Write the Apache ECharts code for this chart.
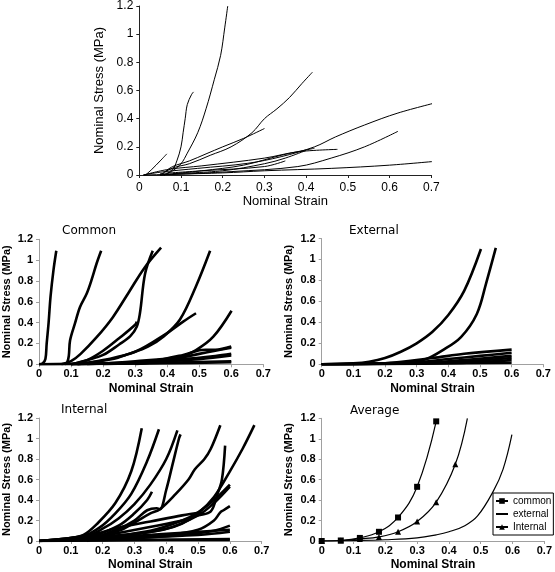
<!DOCTYPE html>
<html><head><meta charset="utf-8">
<script src="https://cdn.jsdelivr.net/npm/echarts@6/dist/echarts.min.js"></script>
<style>html,body{margin:0;padding:0;background:#fff}#c{width:555px;height:572px}</style>
</head><body><div id="c"></div>
<script>
// ---- data ----
const xTicks = [0, 0.1, 0.2, 0.3, 0.4, 0.5, 0.6, 0.7];
const yTicks = [0, 0.2, 0.4, 0.6, 0.8, 1, 1.2];
const panelTitles = ['Common', 'External', 'Internal', 'Average'];
const legendNames = ['common', 'external', 'Internal'];

const topCurves = [
  [[0.015,0],[0.03,0.04],[0.05,0.1],[0.066,0.15]],
  [[0.06,0],[0.08,0.04],[0.09,0.1],[0.1,0.2],[0.105,0.3],[0.11,0.4],[0.115,0.5],[0.125,0.57],[0.13,0.59]],
  [[0.06,0],[0.08,0.03],[0.1,0.08],[0.115,0.155],[0.14,0.3],[0.16,0.47],[0.18,0.68],[0.195,0.85],[0.205,1.05],[0.212,1.2]],
  [[0.05,0],[0.08,0.05],[0.12,0.08],[0.17,0.14],[0.22,0.2],[0.27,0.3],[0.3,0.4],[0.33,0.47],[0.36,0.55],[0.39,0.65],[0.415,0.73]],
  [[0.06,0.02],[0.08,0.06],[0.12,0.1],[0.16,0.15],[0.2,0.2],[0.25,0.26],[0.3,0.33]],
  [[0.01,0],[0.05,0.02],[0.14,0.047],[0.26,0.083],[0.34,0.13],[0.42,0.2],[0.47,0.27],[0.54,0.355],[0.62,0.44],[0.72,0.52]],
  [[0.05,0],[0.22,0.024],[0.38,0.06],[0.46,0.12],[0.54,0.2],[0.62,0.31]],
  [[0.01,0],[0.07,0.04],[0.15,0.065],[0.3,0.12],[0.38,0.165],[0.475,0.182]],
  [[0.01,0],[0.2,0.015],[0.3,0.03],[0.46,0.047],[0.6,0.07],[0.72,0.1]],
  [[0.05,0],[0.15,0.03],[0.25,0.07],[0.34,0.14],[0.42,0.19]],
  [[0.08,0.01],[0.2,0.03],[0.3,0.08],[0.35,0.12],[0.4,0.175]],
  [[0.05,0.01],[0.15,0.03],[0.3,0.06],[0.35,0.1]]
];

const commonCurves = [
  [[0,0],[0.012,0.01],[0.02,0.05],[0.024,0.2],[0.03,0.4],[0.036,0.65],[0.045,0.9],[0.054,1.09]],
  [[0.08,0],[0.088,0.02],[0.093,0.08],[0.097,0.23],[0.112,0.39],[0.128,0.55],[0.149,0.68],[0.164,0.81],[0.18,0.97],[0.194,1.09]],
  [[0.07,0],[0.1,0.03],[0.13,0.1],[0.18,0.26],[0.23,0.45],[0.28,0.69],[0.33,0.93],[0.381,1.12]],
  [[0.1,0],[0.15,0.04],[0.2,0.09],[0.25,0.19],[0.285,0.27],[0.305,0.36],[0.315,0.49],[0.331,0.87],[0.355,1.09]],
  [[0.1,0],[0.15,0.04],[0.2,0.13],[0.25,0.25],[0.3,0.38],[0.305,0.41]],
  [[0.12,0],[0.23,0.05],[0.28,0.1],[0.34,0.17],[0.39,0.27],[0.44,0.43],[0.49,0.75],[0.534,1.09]],
  [[0.12,0],[0.2,0.04],[0.3,0.12],[0.4,0.3],[0.45,0.41],[0.49,0.49]],
  [[0.15,0],[0.3,0.03],[0.44,0.073],[0.49,0.137],[0.544,0.265],[0.601,0.514]],
  [[0.2,0],[0.35,0.03],[0.45,0.09],[0.5,0.135],[0.52,0.14],[0.55,0.14],[0.6,0.17]],
  [[0.3,0],[0.4,0.04],[0.5,0.1],[0.55,0.13],[0.6,0.16]],
  [[0.1,0],[0.3,0.02],[0.45,0.05],[0.55,0.08],[0.6,0.1]],
  [[0.1,0],[0.3,0.015],[0.5,0.05],[0.6,0.085]],
  [[0,0],[0.3,0.01],[0.6,0.03]],
  [[0,0],[0.4,0.01],[0.6,0.02]]
];

const externalCurves = [
  [[0,0],[0.1,0.01],[0.15,0.025],[0.2,0.06],[0.25,0.12],[0.3,0.2],[0.35,0.31],[0.4,0.47],[0.45,0.7],[0.503,1.1]],
  [[0,0],[0.2,0.01],[0.28,0.02],[0.33,0.05],[0.38,0.13],[0.44,0.26],[0.49,0.48],[0.52,0.78],[0.55,1.11]],
  [[0,0],[0.2,0.01],[0.35,0.06],[0.45,0.1],[0.6,0.14]],
  [[0,0],[0.3,0.02],[0.4,0.05],[0.5,0.08],[0.6,0.11]],
  [[0,0],[0.3,0.01],[0.45,0.04],[0.6,0.08]],
  [[0,0],[0.4,0.02],[0.6,0.06]],
  [[0,0],[0.4,0.01],[0.6,0.04]],
  [[0,0],[0.6,0.015]]
];

const internalCurves = [
  [[0,0],[0.1,0.03],[0.14,0.06],[0.18,0.16],[0.24,0.37],[0.29,0.68],[0.323,1.1]],
  [[0,0],[0.14,0.05],[0.19,0.13],[0.24,0.27],[0.29,0.46],[0.34,0.78],[0.377,1.09]],
  [[0,0],[0.15,0.05],[0.2,0.12],[0.25,0.22],[0.3,0.36],[0.35,0.55],[0.4,0.8],[0.435,1.08]],
  [[0.15,0],[0.25,0.12],[0.3,0.2],[0.34,0.3],[0.37,0.32],[0.38,0.31],[0.4,0.5],[0.42,0.75],[0.44,1.0],[0.445,1.04]],
  [[0.15,0.02],[0.25,0.15],[0.3,0.27],[0.34,0.4],[0.355,0.48]],
  [[0.15,0.02],[0.25,0.1],[0.3,0.18],[0.35,0.27],[0.38,0.31],[0.43,0.46],[0.47,0.6],[0.49,0.7],[0.52,0.8],[0.54,0.9],[0.57,1.13]],
  [[0,0],[0.15,0.03],[0.3,0.07],[0.39,0.11],[0.45,0.17],[0.5,0.27],[0.55,0.43],[0.6,0.68],[0.64,0.9],[0.677,1.13]],
  [[0.2,0.05],[0.45,0.2],[0.5,0.25],[0.54,0.29],[0.56,0.45],[0.575,0.6],[0.585,0.93]],
  [[0.15,0.02],[0.35,0.1],[0.45,0.2],[0.5,0.28],[0.55,0.4],[0.6,0.55]],
  [[0.2,0.03],[0.4,0.12],[0.5,0.25],[0.55,0.37],[0.6,0.53]],
  [[0.15,0.04],[0.25,0.13],[0.35,0.19],[0.45,0.25],[0.51,0.28]],
  [[0.2,0.02],[0.4,0.06],[0.5,0.11],[0.55,0.2],[0.57,0.28],[0.58,0.3],[0.6,0.34]],
  [[0.2,0.01],[0.45,0.06],[0.55,0.1],[0.6,0.15]],
  [[0.1,0.01],[0.4,0.07],[0.6,0.11]],
  [[0.1,0.01],[0.5,0.06],[0.6,0.09]],
  [[0,0],[0.6,0.02]],
  [[0,0],[0.4,0.01],[0.6,0.01]]
];

const avgCommon = [[0,0],[0.06,0.005],[0.12,0.03],[0.18,0.09],[0.24,0.23],[0.30,0.53],[0.36,1.17]];
const avgExternal = [[0,0],[0.1,0.004],[0.2,0.012],[0.3,0.03],[0.36,0.06],[0.4,0.09],[0.45,0.15],[0.49,0.245],[0.54,0.49],[0.57,0.7],[0.598,1.04]];
const avgInternal = [[0,0],[0.06,0.005],[0.12,0.02],[0.18,0.04],[0.24,0.09],[0.30,0.19],[0.36,0.38],[0.42,0.75],[0.458,1.2]];
const avgInternalMarked = 8; // first 8 points carry a marker

// ---- layout ----
const FONT = '"Liberation Sans", Arial, sans-serif';
const grids = [
  {left:139.3, top:6, width:292, height:169},
  {left:39, top:239.3, width:224.3, height:125},
  {left:321.7, top:238.5, width:221.6, height:125.8},
  {left:37.7, top:418, width:224, height:125},
  {left:321.7, top:418.3, width:226.5, height:125.7}
];

function xAxis(i){
  const top = i===0;
  return {
    type:'value', gridIndex:i, min:xTicks[0], max:xTicks[xTicks.length-1], interval:0.1,
    name:'Nominal Strain', nameLocation:'middle', nameGap: top?19:18,
    nameTextStyle:{fontFamily:FONT, fontSize: top?13:12, fontWeight: top?'normal':'bold', color:'#000'},
    axisLine:{show:true, lineStyle:{color: top?'#222':'#a0a0a0', width:1}},
    axisTick:{show:true, length:3, lineStyle:{color: top?'#222':'#a0a0a0'}},
    splitLine:{show:false},
    axisLabel:{fontFamily:FONT, fontSize: top?12:11, fontWeight: top?'normal':'bold', color:'#000', margin: top?7:4}
  };
}
function yAxis(i){
  const top = i===0;
  return {
    type:'value', gridIndex:i, min:yTicks[0], max:yTicks[yTicks.length-1], interval:0.2,
    name:'Nominal Stress (MPa)', nameLocation:'middle', nameGap: top?30:27,
    nameTextStyle:{fontFamily:FONT, fontSize: top?13:11, fontWeight: top?'normal':'bold', color:'#000'},
    axisLine:{show:true, lineStyle:{color: top?'#222':'#a0a0a0', width:1}},
    axisTick:{show:true, length:3, lineStyle:{color: top?'#222':'#a0a0a0'}},
    splitLine:{show:false},
    axisLabel:{fontFamily:FONT, fontSize: top?12:11, fontWeight: top?'normal':'bold', color:'#000', margin:6}
  };
}

const series = [];
function addCurves(curves, gi, width, clip){
  curves.forEach(c => series.push({
    type:'line', xAxisIndex:gi, yAxisIndex:gi, data:c, showSymbol:false, symbol:'none',
    smooth:0.35, clip:clip, lineStyle:{color:'#000', width:width}, silent:true, animation:false
  }));
}
addCurves(topCurves, 0, 1, false);
addCurves(commonCurves, 1, 2.6, true);
addCurves(externalCurves, 2, 2.6, true);
addCurves(internalCurves, 3, 2.6, true);

series.push({
  name:legendNames[0], type:'line', xAxisIndex:4, yAxisIndex:4, data:avgCommon,
  symbol:'rect', symbolSize:6, smooth:0.4, itemStyle:{color:'#000'}, lineStyle:{color:'#000', width:1.2}, animation:false
});
series.push({
  name:legendNames[1], type:'line', xAxisIndex:4, yAxisIndex:4, data:avgExternal,
  symbol:'none', smooth:0.4, itemStyle:{color:'#000'}, lineStyle:{color:'#000', width:1.2}, animation:false
});
series.push({
  name:legendNames[2], type:'line', xAxisIndex:4, yAxisIndex:4,
  data:avgInternal.map((p,k)=> k<avgInternalMarked ? p : {value:p, symbol:'none'}),
  symbol:'triangle', symbolSize:6, smooth:0.4, itemStyle:{color:'#000'}, lineStyle:{color:'#000', width:1.2}, animation:false
});

const titlePos = [[62,231],[349,231],[61,410],[350,410.5]];
const graphic = panelTitles.map((t,k)=>({
  type:'text', x:titlePos[k][0], y:titlePos[k][1],
  style:{text:t, fill:'#000', font:'12px "DejaVu Sans", Verdana, sans-serif', verticalAlign:'middle'}
}));

const chart = echarts.init(document.getElementById('c'), null, {renderer:'canvas'});
chart.setOption({
  animation:false,
  backgroundColor:'#fff',
  grid: grids,
  xAxis: grids.map((g,i)=>xAxis(i)),
  yAxis: grids.map((g,i)=>yAxis(i)),
  series: series,
  graphic: graphic,
  legend:{
    data:[
      {name:legendNames[0]},
      {name:legendNames[1], itemStyle:{color:'rgba(0,0,0,0)', borderWidth:0}},
      {name:legendNames[2]}
    ],
    orient:'vertical', left:493, top:493,
    itemWidth:12, itemHeight:7, itemGap:1, padding:[2,2,2,2],
    borderColor:'#000', borderWidth:1, borderRadius:0, backgroundColor:'#fff',
    textStyle:{fontFamily:FONT, fontSize:10, color:'#000', lineHeight:12},
    selectedMode:false
  }
});
</script></body></html>
